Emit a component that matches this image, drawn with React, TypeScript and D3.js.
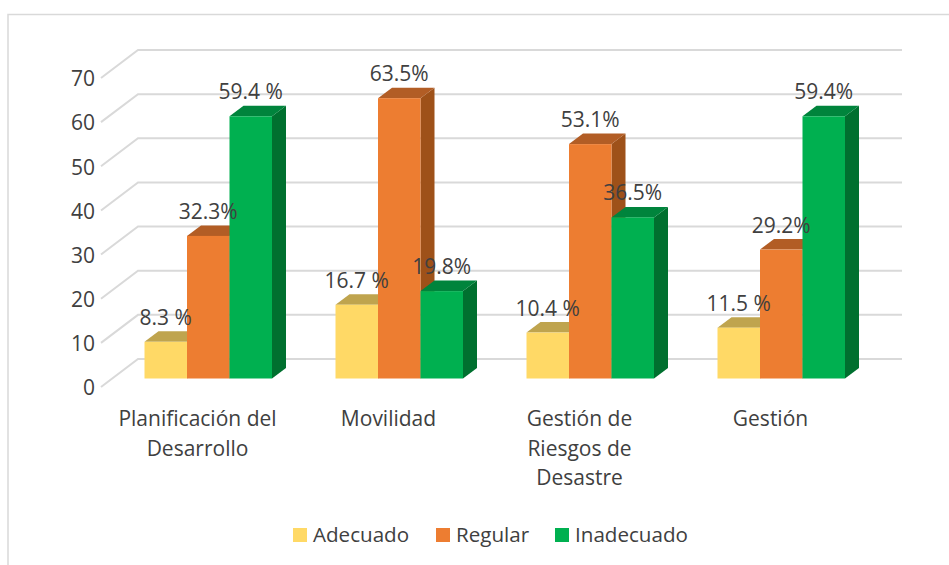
import React from "react";
import * as d3 from "d3";

const categories = [
  ["Planificación del", "Desarrollo"],
  ["Movilidad"],
  ["Gestión de", "Riesgos de", "Desastre"],
  ["Gestión"],
];
const seriesNames = ["Adecuado", "Regular", "Inadecuado"];
const adecuado = [8.3, 16.7, 10.4, 11.5];
const regular = [32.3, 63.5, 53.1, 29.2];
const inadecuado = [59.4, 19.8, 36.5, 59.4];
const adecuadoLabels = ["8.3 %", "16.7 %", "10.4 %", "11.5 %"];
const regularLabels = ["32.3%", "63.5%", "53.1%", "29.2%"];
const inadecuadoLabels = ["59.4 %", "19.8%", "36.5%", "59.4%"];
const yTicks = [0, 10, 20, 30, 40, 50, 60, 70];

const values = [adecuado, regular, inadecuado];
const labels = [adecuadoLabels, regularLabels, inadecuadoLabels];
const front = ["#FFD966", "#ED7D31", "#00B050"];
const top = ["#BFA44E", "#B25D25", "#00843C"];
const side = ["#A68F44", "#9E5119", "#00702F"];
const FONT = "'Open Sans', sans-serif";
const TEXT = "#404040";
const FS = 21;

export default function App() {
  const y = d3.scaleLinear().domain([0, 70]).range([378.5, 69.5]);
  const x0 = d3.scaleBand<number>().domain(d3.range(4)).range([102, 866]).paddingInner(0).paddingOuter(0);
  const x1 = d3.scaleBand<number>().domain(d3.range(3)).range([42.5, 170]);
  const w = x1.bandwidth();
  const dx = 14, dy = 10.5;
  const backDy = -19.5, frontDy = 8.5;

  return (
    <svg width={949} height={565} style={{ position: "absolute", left: 0, top: 0 }}>
      <rect width={949} height={565} fill="#fff" />
      <path d="M8,565V14.5H949" fill="none" stroke="#D9D9D9" strokeWidth={1.5} />
      {yTicks.map((t) => (
        <g key={t}>
          <path
            d={`M101,${y(t) + frontDy}L138,${y(t) + backDy}H902`}
            fill="none"
            stroke="#D9D9D9"
            strokeWidth={2}
          />
          <text x={95} y={y(t) + frontDy + 1} dy="0.35em" textAnchor="end" fontFamily={FONT} fontSize={FS} fill={TEXT}>
            {t}
          </text>
        </g>
      ))}
      {categories.map((_, c) => (
        <g key={c}>
          {values.map((s, i) => {
            const x = x0(c)! + x1(i)!;
            const yt = y(s[c]);
            const y0 = y(0);
            return (
              <g key={i}>
                <path d={`M${x + w},${yt}l${dx},${-dy}V${y0 - dy}l${-dx},${dy}Z`} fill={side[i]} />
                <path d={`M${x},${yt}l${dx},${-dy}h${w}l${-dx},${dy}Z`} fill={top[i]} />
                <rect x={x} y={yt} width={w} height={y0 - yt} fill={front[i]} />
              </g>
            );
          })}
        </g>
      ))}
      {categories.map((_, c) =>
        values.map((s, i) => (
          <text
            key={`${c}-${i}`}
            x={x0(c)! + x1(i)! + w / 2}
            y={y(s[c]) - 17}
            textAnchor="middle"
            fontFamily={FONT}
            fontSize={FS}
            fill={TEXT}
          >
            {labels[i][c]}
          </text>
        ))
      )}
      {categories.map((lines, c) =>
        lines.map((l, k) => (
          <text
            key={l}
            x={x0(c)! + x0.bandwidth() / 2}
            y={426 + k * 29.5}
            textAnchor="middle"
            fontFamily={FONT}
            fontSize={FS}
            fill={TEXT}
          >
            {l}
          </text>
        ))
      )}
      {seriesNames.map((n, i) => {
        const lx = [293, 436, 555][i];
        return (
          <g key={n}>
            <rect x={lx} y={528} width={14} height={14} fill={front[i]} />
            <text x={lx + 20} y={542} fontFamily={FONT} fontSize={20.6} fill={TEXT}>
              {n}
            </text>
          </g>
        );
      })}
    </svg>
  );
}
